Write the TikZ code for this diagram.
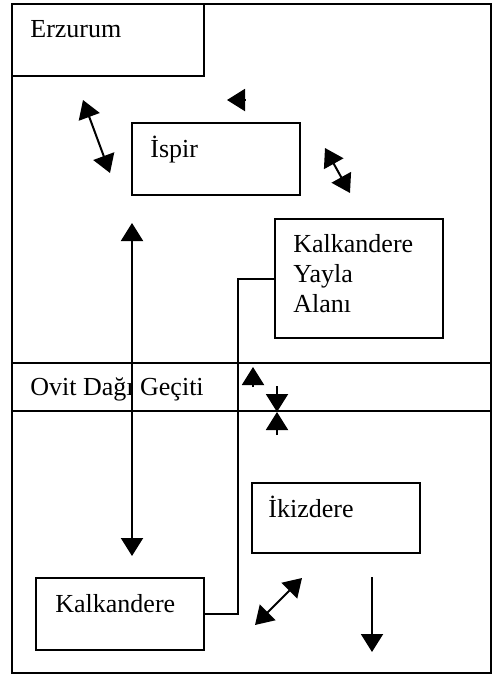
\documentclass[tikz,border=0pt]{standalone}
\usepackage{fontspec}
\setmainfont{Liberation Serif}
\usetikzlibrary{arrows.meta}

\tikzset{
  box/.style={draw, line width=1pt, anchor=north west, inner sep=0pt, outer sep=0pt},
  lbl/.style={anchor=base west, inner sep=0pt, align=left, font=\fontsize{13}{15}\selectfont},
  arr/.style={line width=1pt, -{Triangle[length=9pt,width=11pt]}},
  darr/.style={line width=1pt, {Triangle[length=9pt,width=11pt]}-{Triangle[length=9pt,width=11pt]}}
}

\begin{document}
\begin{tikzpicture}[x=0.5pt, y=-0.5pt]
    \useasboundingbox (0,0) rectangle (494,676);

    % Frame and pass band
    \node[box, minimum width=239.5pt, minimum height=334.5pt] (frame) at (12,4) {};
    \node[box, minimum width=239.5pt, minimum height=24pt] (ovit) at (12,363) {};
    \node[lbl] (ovittxt) at (30,395) {Ovit Dağı Geçiti};

    % Places
    \node[box, minimum width=96pt, minimum height=36pt] (erzurum) at (12,4) {};
    \node[lbl] (erzurumtxt) at (30,37) {Erzurum};

    \node[box, minimum width=84pt, minimum height=36pt] (ispir) at (132,123) {};
    \node[lbl] (ispirtxt) at (150,157) {İspir};

    \node[box, minimum width=84pt, minimum height=59.5pt] (yayla) at (275,219) {};
    \node[lbl] (yaylatxt) at (293,312) {Kalkandere\\Yayla\\Alanı};

    \node[box, minimum width=84pt, minimum height=35pt] (ikizdere) at (252,483) {};
    \node[lbl] (ikizderetxt) at (268,517) {İkizdere};

    \node[box, minimum width=84pt, minimum height=36pt] (kalkandere) at (36,578) {};
    \node[lbl] (kalkanderetxt) at (55,612) {Kalkandere};

    % Road
    \draw[line width=1pt] (kalkandere.east) -- ++(34,0) |- (yayla.west);

    % Arrows
    \draw[darr] (110,173) -- (83,100);
    \draw[arr] (245,100) -- (227,100);
    \draw[darr] (325,148) -- (350,193);
    \draw[darr] (132,223) -- (132,556);
    \draw[arr] (253,387) -- (253,367);
    \draw[arr] (277,386) -- (277,412);
    \draw[arr] (277,435) -- (277,412);
    \draw[darr] (255,625) -- (302,578);
    \draw[arr] (372,577) -- (372,652);
\end{tikzpicture}
\end{document}
